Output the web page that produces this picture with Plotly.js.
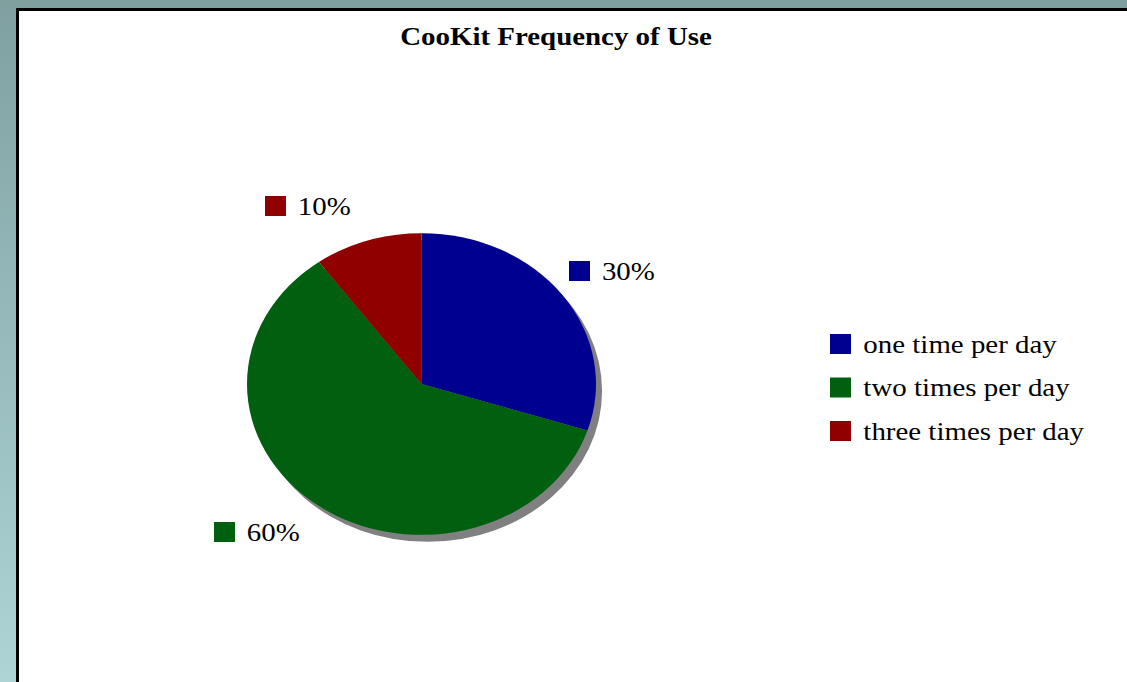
<!DOCTYPE html>
<html><head><meta charset="utf-8">
<script src="https://cdn.plot.ly/plotly-3.0.1.min.js"></script>
<style>
html,body{margin:0;padding:0;width:100%;height:100%;overflow:hidden;background:#ffffff;}
#bg{position:fixed;left:0;top:0;width:100vw;height:100vh;background:linear-gradient(to bottom,#80a0a0 0%,#97bbbd 50%,#aed4d6 100%);}
#frame{position:fixed;left:16px;top:8px;right:-40px;bottom:-40px;background:#fff;border-left:3px solid #000;border-top:3px solid #000;overflow:hidden;}
#chart{position:absolute;left:0;top:0;width:958px;height:671px;transform:scaleX(1.1566);transform-origin:0 0;}
#edge{position:fixed;right:0;top:11px;width:8px;bottom:0;background:#ffffff;z-index:100;}
</style></head>
<body>
<div id="bg"></div>
<div id="frame"><div id="chart"></div></div>
<div id="edge"></div>
<script>
// ---- data ----
const categories = ["one time per day", "two times per day", "three times per day"];
const values = [30, 60, 10];
const colors = ["#000090", "#006010", "#900000"];
const chartTitle = "CooKit Frequency of Use";

// ---- layout helpers (reference pixel -> paper) ----
const SX = 1.1566, W = 958, H = 671, OX = 19, OY = 11;
const px = x => (x - OX) / SX / W;
const py = y => 1 - (y - OY) / H;

const pieBox = {left: 247, right: 596, top: 233, bottom: 535};
const shadow = {dx: 6, dy: 7};
const labelAnchors = [ {left: 569, cy: 271}, {left: 214, cy: 532}, {left: 265, cy: 206} ];
const legendBox = {left: 830, cy0: 344, step: 43.5};
const SQ_W = 21, SQ_H = 20, TEXT_GAP = 31;
const FONT = "Liberation Serif, Times New Roman, serif";

const total = values.reduce((a, b) => a + b, 0);

const mainPie = {
  type: "pie", labels: categories, values: values, sort: false,
  direction: "clockwise", rotation: 0,
  marker: {colors: colors, line: {width: 0}},
  textinfo: "none", hoverinfo: "label+percent", showlegend: false,
  domain: {x: [px(pieBox.left), px(pieBox.right)], y: [py(pieBox.bottom), py(pieBox.top)]}
};
const shadowPie = {
  type: "pie", labels: ["shadow"], values: [total], sort: false,
  marker: {colors: ["#808080"], line: {width: 0}},
  textinfo: "none", hoverinfo: "skip", showlegend: false,
  domain: {x: [px(pieBox.left + shadow.dx), px(pieBox.right + shadow.dx)],
           y: [py(pieBox.bottom + shadow.dy), py(pieBox.top + shadow.dy)]}
};

const shapes = [], annotations = [];
function key(left, cy, color, text) {
  shapes.push({type: "rect", xref: "paper", yref: "paper",
    x0: px(left), x1: px(left + SQ_W), y0: py(cy + SQ_H / 2), y1: py(cy - SQ_H / 2),
    fillcolor: color, line: {width: 0}});
  annotations.push({xref: "paper", yref: "paper", x: px(left + TEXT_GAP), y: py(cy),
    xanchor: "left", yanchor: "middle", showarrow: false, text: text,
    font: {family: FONT, size: 25, color: "#000"}});
}
values.forEach((v, i) => {
  key(labelAnchors[i].left, labelAnchors[i].cy, colors[i], Math.round(v / total * 100) + "%");
});
categories.forEach((c, i) => {
  key(legendBox.left, legendBox.cy0 + i * legendBox.step, colors[i], c);
});

const layout = {
  width: W, height: H,
  margin: {l: 0, r: 0, t: 0, b: 0},
  paper_bgcolor: "rgba(0,0,0,0)", plot_bgcolor: "rgba(0,0,0,0)",
  showlegend: false,
  title: {text: chartTitle, xref: "paper", yref: "paper", x: px(556), y: py(36),
    xanchor: "center", yanchor: "middle",
    font: {family: FONT, size: 25, color: "#000", weight: 700}},
  shapes: shapes, annotations: annotations
};
Plotly.newPlot("chart", [shadowPie, mainPie], layout, {displayModeBar: false, staticPlot: true});
</script>
</body></html>
